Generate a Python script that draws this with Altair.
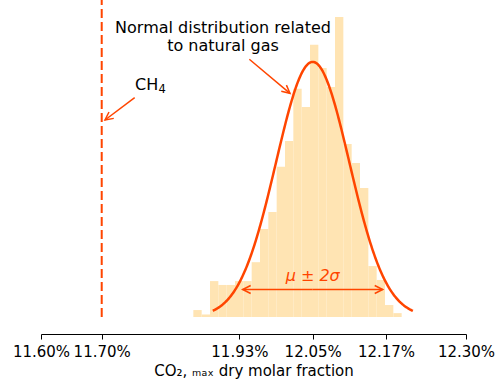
import altair as alt
import pandas as pd
import numpy as np

# ---- data ----
bin_start = 11.8509          # left edge of first histogram bin (%)
bin_width = 0.013726         # histogram bin width (%)
density = [0.18, 0.065, 0.93, 0.83, 0.83, 0.93, 0.93, 1.42, 2.28, 2.72,
           3.89, 4.56, 5.91, 5.44, 7.05, 6.45, 5.96, 7.77, 4.48, 3.99,
           3.34, 1.32, 0.96, 0.31, 0.10]
mu = 12.0475
sigma = 0.06037
curve_range = [11.883, 12.2125]
ch4_value = 11.70
x_domain = [11.60, 12.30]
y_domain = [0, 8.212]
tick_values = [11.60, 11.70, mu - 2 * sigma, mu, mu + 2 * sigma, 12.30]

ORANGE = "#ff4500"
BAR = "#ffe4b3"
FONT = "DejaVu Sans"

W, H = 425, 317
px_x = W / (x_domain[1] - x_domain[0])
px_y = H / (y_domain[1] - y_domain[0])

# histogram table
edges = [bin_start + i * bin_width for i in range(len(density) + 1)]
hist = pd.DataFrame({"x0": edges[:-1], "x1": edges[1:], "d": density, "z": 0.0})

# normal pdf
xs = np.linspace(curve_range[0], curve_range[1], 300)
pdf = np.exp(-0.5 * ((xs - mu) / sigma) ** 2) / (sigma * np.sqrt(2 * np.pi))
curve = pd.DataFrame({"x": xs, "p": pdf})

xsc = alt.Scale(domain=x_domain, nice=False, zero=False)
ysc = alt.Scale(domain=y_domain, nice=False, zero=False)

axis = alt.Axis(values=tick_values,
                labelExpr="format(datum.value, '.2f') + '%'",
                offset=17, tickSize=5, tickColor="black", domainColor="black",
                labelFontSize=15, labelFont=FONT, labelColor="black",
                labelOverlap=False, labelFlush=False, labelBound=False,
                labelPadding=5, grid=False,
                title="CO₂, ₘₐₓ dry molar fraction", titleFont=FONT,
                titleFontSize=15, titleFontWeight="normal", titleColor="black",
                titlePadding=4)

bars = alt.Chart(hist).mark_rect(color=BAR).encode(
    x=alt.X("x0:Q", scale=xsc, axis=axis),
    x2="x1:Q",
    y=alt.Y("d:Q", scale=ysc, axis=None),
    y2="z:Q",
)

line = alt.Chart(curve).mark_line(color=ORANGE, strokeWidth=2.5).encode(
    x="x:Q", y="p:Q")

vline = alt.Chart(pd.DataFrame({"x": [ch4_value], "y": [0.0], "y2": [y_domain[1]]})).mark_rule(
    color=ORANGE, strokeWidth=2, strokeDash=[9, 4]).encode(x="x:Q", y="y:Q", y2="y2:Q")

# arrows (start -> tip) in data coords
shrink = 0.0054
arrows = pd.DataFrame({
    "xa": [11.7543, 11.9431, mu, mu],
    "ya": [5.681, 6.676, 0.712, 0.712],
    "xb": [11.7054, 12.0101, mu - 2 * sigma + shrink, mu + 2 * sigma - shrink],
    "yb": [5.104, 5.795, 0.712, 0.712],
})
arrows["angle"] = np.degrees(np.arctan2(-(arrows.yb - arrows.ya) * px_y,
                                        (arrows.xb - arrows.xa) * px_x)) % 360

shafts = alt.Chart(arrows).mark_rule(color=ORANGE, strokeWidth=1.5).encode(
    x="xa:Q", y="ya:Q", x2="xb:Q", y2="yb:Q")
heads = alt.Chart(arrows).mark_point(
    shape="M-1,-0.5L0,0L-1,0.5", filled=False, size=256, strokeWidth=1.5,
    color=ORANGE, opacity=1).encode(
    x="xb:Q", y="yb:Q", angle=alt.Angle("angle:Q", scale=None))

ch4_pos = pd.DataFrame({"x": [11.7548], "y": [5.881], "t": ["CH"], "s": ["4"]})
ch4_text = alt.Chart(ch4_pos).mark_text(
    align="left", baseline="alphabetic", fontSize=16, font=FONT, color="black").encode(
    x="x:Q", y="y:Q", text="t:N")
ch4_sub = alt.Chart(ch4_pos).mark_text(
    align="left", baseline="alphabetic", fontSize=11.5, font=FONT, color="black",
    dx=23.5, dy=3).encode(x="x:Q", y="y:Q", text="s:N")

nd_text = alt.Chart(pd.DataFrame({"x": [11.8998], "y": [7.358],
                                  "t": ["Normal distribution related\nto natural gas"]})).mark_text(
    align="center", baseline="alphabetic", fontSize=16, font=FONT, color="black",
    lineBreak="\n", lineHeight=18.4).encode(x="x:Q", y="y:Q", text="t:N")

mu_text = alt.Chart(pd.DataFrame({"x": [mu], "y": [0.933], "t": ["μ ± 2σ"]})).mark_text(
    align="center", baseline="alphabetic", fontSize=16, font=FONT, color=ORANGE,
    fontStyle="italic").encode(x="x:Q", y="y:Q", text="t:N")

chart = alt.layer(bars, line, vline, shafts, heads, ch4_text, ch4_sub, nd_text, mu_text).properties(
    width=W, height=H,
    autosize=alt.AutoSizeParams(type="none"),
    padding={"left": 41, "top": 0, "right": 30, "bottom": 71},
).configure_view(stroke=None)

chart.save("out.html", embed_options={"renderer": "svg", "actions": False})
